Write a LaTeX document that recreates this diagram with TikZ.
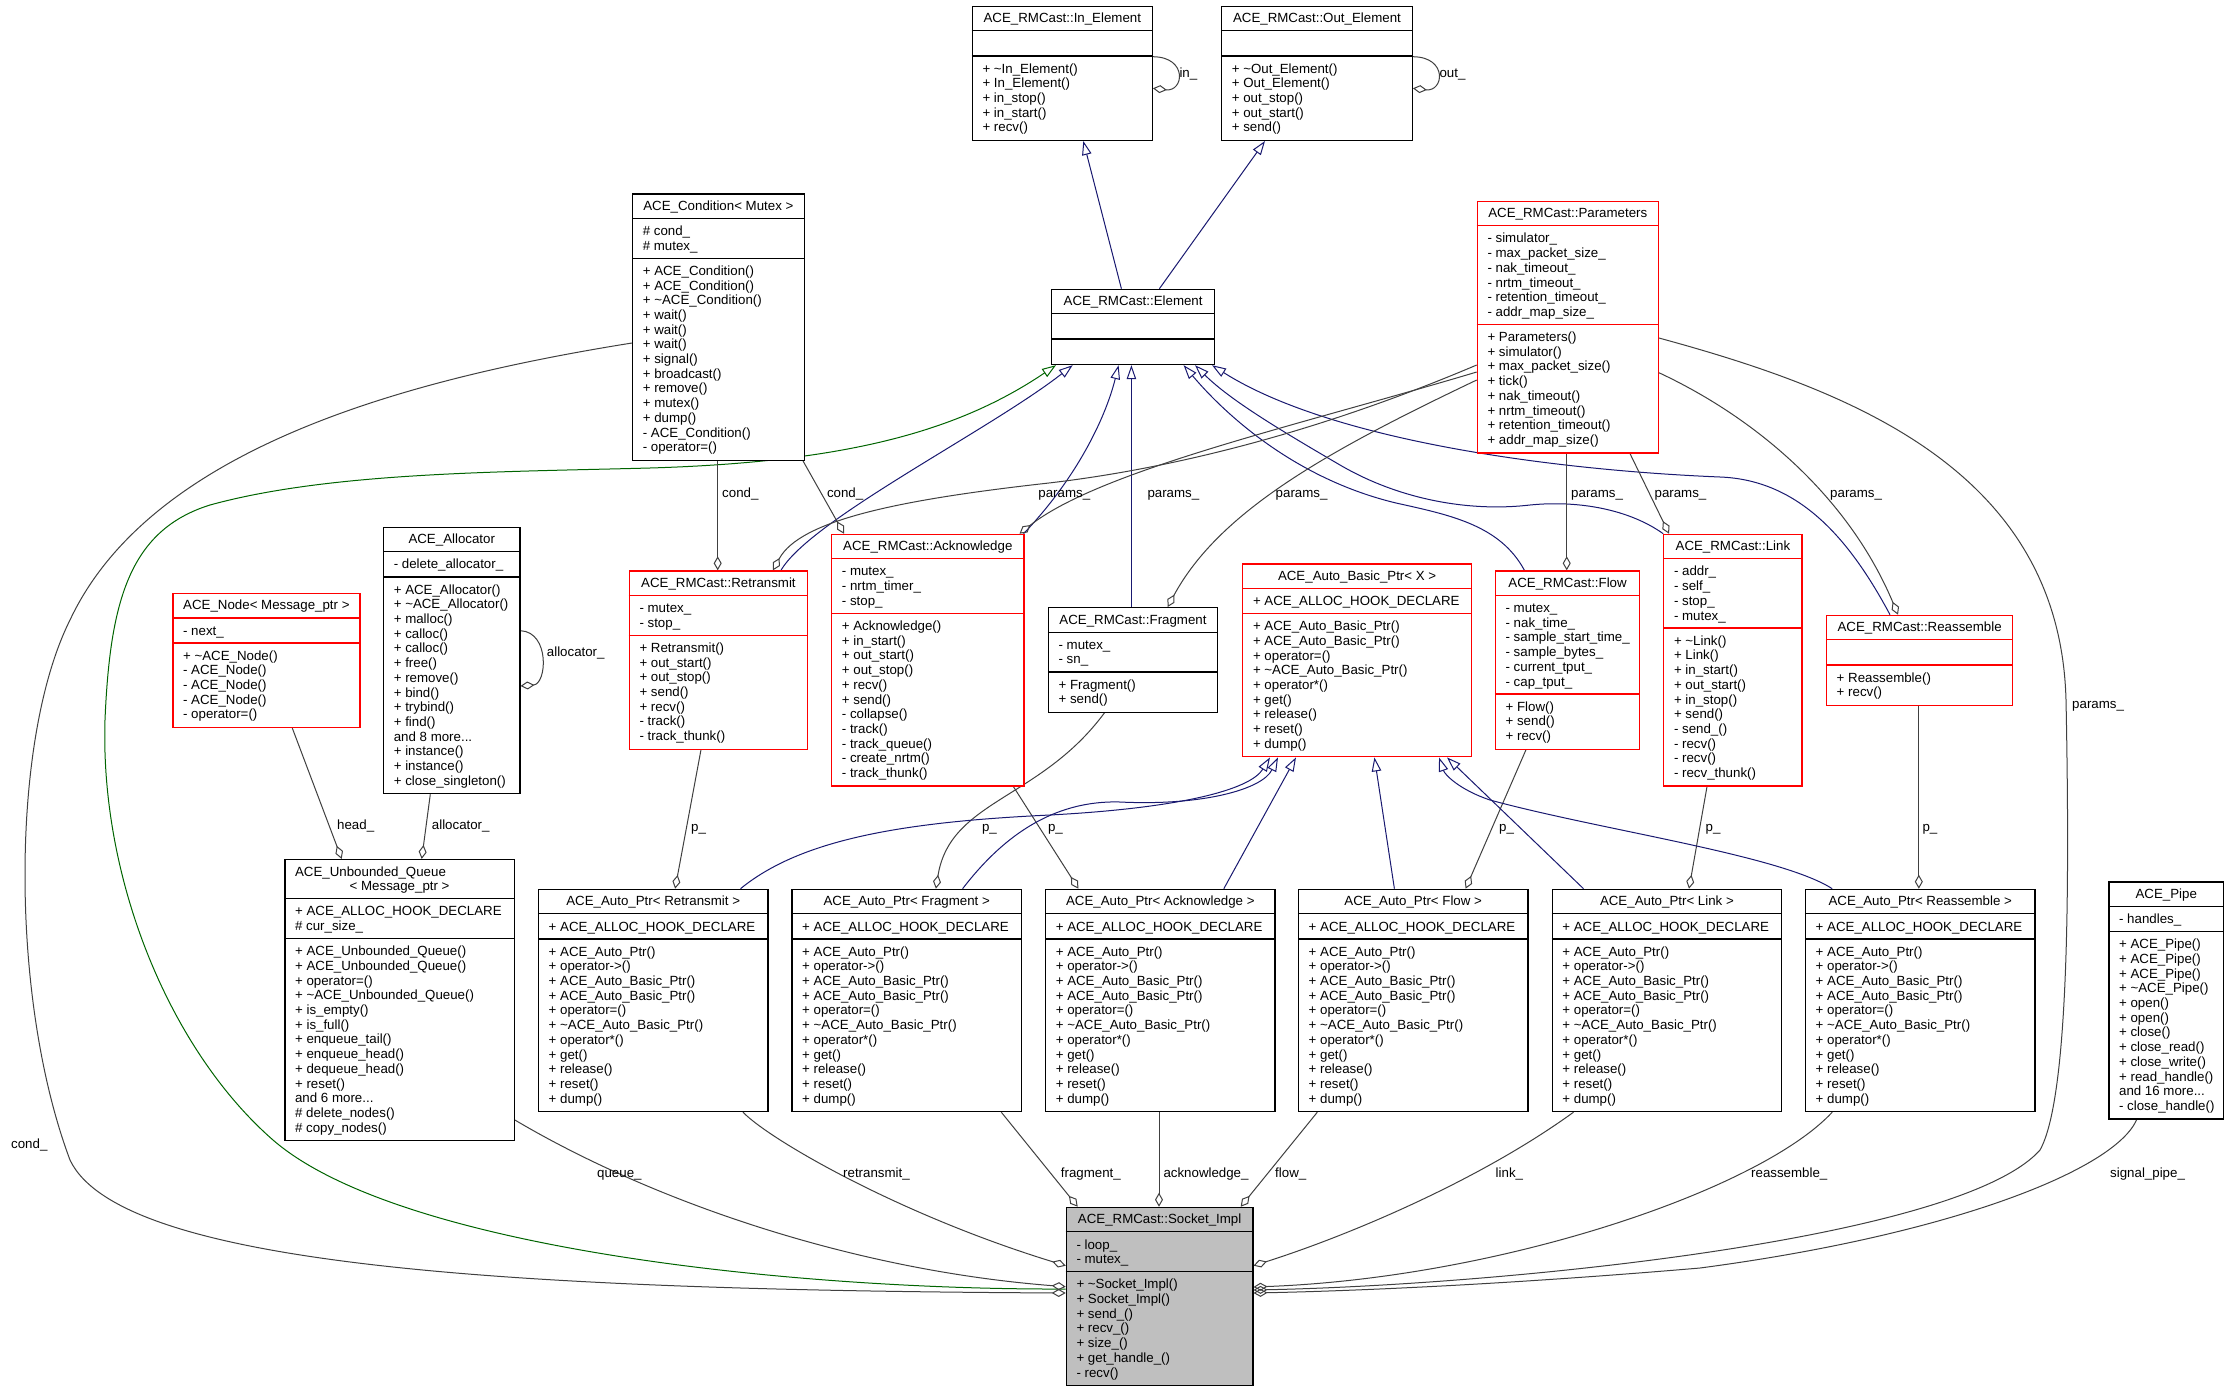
\documentclass[tikz,border=0pt]{standalone}
\usepackage{fontspec}
\setmainfont{Liberation Sans}
\usetikzlibrary{arrows.meta,backgrounds,calc}
\definecolor{egray}{HTML}{404040}
\definecolor{eblue}{HTML}{191970}
\definecolor{egreen}{HTML}{006400}
\definecolor{sockfill}{HTML}{BFBFBF}
\newcommand\tld{\textasciitilde}
\tikzset{
  cls/.style={draw=black, line width=1.2pt, fill=white},
  clsred/.style={draw=red, line width=1.2pt, fill=white},
  clssock/.style={draw=black, line width=1.2pt, fill=sockfill},
  txt/.style={font=\fontsize{13.3}{14.7}\selectfont, inner sep=0pt, align=left},
  lbl/.style={font=\fontsize{13.3}{14.7}\selectfont, inner sep=0pt, anchor=base west},
  agg/.style={draw=egray, line width=1pt, -{Diamond[open, length=14pt, width=8pt]}},
  inhb/.style={draw=eblue, line width=1pt, -{Triangle[open, length=14pt, width=9.5pt]}},
  inhg/.style={draw=egreen, line width=1pt, -{Triangle[open, length=14pt, width=9.5pt]}},
}
\newcommand\ClassBox[8]{%
  \pgfmathsetmacro\hA{10.4+max(#6,1)*14.7}%
  \pgfmathsetmacro\hB{\hA+10.4+max(#7,1)*14.7}%
  \pgfmathsetmacro\hC{\hB+10.4+max(#8,1)*14.7}%
  \pgfmathsetmacro\hAt{\hA+6.7}%
  \pgfmathsetmacro\hBt{\hB+6.7}%
  \node[#2, anchor=north west, minimum width=#5pt, minimum height=\hC pt, inner sep=0pt] (#1) at (#3,#4) {};
  \draw[#2] ([yshift=-\hA pt]#1.north west) -- ([yshift=-\hA pt]#1.north east);
  \draw[#2] ([yshift=-\hB pt]#1.north west) -- ([yshift=-\hB pt]#1.north east);
  \coordinate (#1-t) at ([yshift=-6.7pt]#1.north);
  \coordinate (#1-tl) at ([xshift=10.6pt,yshift=-6.7pt]#1.north west);
  \coordinate (#1-a) at ([xshift=10.6pt,yshift=-\hAt pt]#1.north west);
  \coordinate (#1-m) at ([xshift=10.6pt,yshift=-\hBt pt]#1.north west);
}
\newcommand\Title[2]{\node[txt,anchor=north] (#1-tt) at (#1-t) {\strut #2};}
\newcommand\Attrs[2]{\node[txt,anchor=north west] (#1-at) at (#1-a) {\strut #2};}
\newcommand\Meths[2]{\node[txt,anchor=north west] (#1-mt) at (#1-m) {\strut #2};}
\newcommand\AutoMeths{+ ACE\_Auto\_Ptr()\\+ operator->()\\+ ACE\_Auto\_Basic\_Ptr()\\+ ACE\_Auto\_Basic\_Ptr()\\+ operator=()\\+ \tld{}ACE\_Auto\_Basic\_Ptr()\\+ operator*()\\+ get()\\+ release()\\+ reset()\\+ dump()}
\begin{document}
\begin{tikzpicture}[x=1pt,y=-1pt]
\useasboundingbox (0,0) rectangle (2229,1392);

% ---------------- boxes ----------------
\ClassBox{inel}{cls}{971.7}{5.7}{180}{1}{0}{5}
\Title{inel}{ACE\_RMCast::In\_Element}
\Meths{inel}{+ \tld{}In\_Element()\\+ In\_Element()\\+ in\_stop()\\+ in\_start()\\+ recv()}

\ClassBox{outel}{cls}{1221}{5.7}{190.7}{1}{0}{5}
\Title{outel}{ACE\_RMCast::Out\_Element}
\Meths{outel}{+ \tld{}Out\_Element()\\+ Out\_Element()\\+ out\_stop()\\+ out\_start()\\+ send()}

\ClassBox{cond}{cls}{632}{193.3}{171.6}{1}{2}{13}
\Title{cond}{ACE\_Condition< Mutex >}
\Attrs{cond}{\# cond\_\\\# mutex\_}
\Meths{cond}{+ ACE\_Condition()\\+ ACE\_Condition()\\+ \tld{}ACE\_Condition()\\+ wait()\\+ wait()\\+ wait()\\+ signal()\\+ broadcast()\\+ remove()\\+ mutex()\\+ dump()\\- ACE\_Condition()\\- operator=()}

\ClassBox{elem}{cls}{1051}{288.7}{163}{1}{0}{0}
\Title{elem}{ACE\_RMCast::Element}

\ClassBox{params}{clsred}{1476.7}{200.7}{181}{1}{6}{8}
\Title{params}{ACE\_RMCast::Parameters}
\Attrs{params}{- simulator\_\\- max\_packet\_size\_\\- nak\_timeout\_\\- nrtm\_timeout\_\\- retention\_timeout\_\\- addr\_map\_size\_}
\Meths{params}{+ Parameters()\\+ simulator()\\+ max\_packet\_size()\\+ tick()\\+ nak\_timeout()\\+ nrtm\_timeout()\\+ retention\_timeout()\\+ addr\_map\_size()}

\ClassBox{anode}{clsred}{172.3}{592.8}{187}{1}{1}{5}
\Title{anode}{ACE\_Node< Message\_ptr >}
\Attrs{anode}{- next\_}
\Meths{anode}{+ \tld{}ACE\_Node()\\- ACE\_Node()\\- ACE\_Node()\\- ACE\_Node()\\- operator=()}

\ClassBox{alloc}{cls}{383}{526.7}{136.3}{1}{1}{14}
\Title{alloc}{ACE\_Allocator}
\Attrs{alloc}{- delete\_allocator\_}
\Meths{alloc}{+ ACE\_Allocator()\\+ \tld{}ACE\_Allocator()\\+ malloc()\\+ calloc()\\+ calloc()\\+ free()\\+ remove()\\+ bind()\\+ trybind()\\+ find()\\and 8 more...\\+ instance()\\+ instance()\\+ close\_singleton()}

\ClassBox{queue}{cls}{284.3}{858.9}{229.4}{2}{2}{13}
\node[txt,anchor=north west] (queue-tt1) at (queue-tl) {\strut ACE\_Unbounded\_Queue};
\node[txt,anchor=north] (queue-tt2) at ([yshift=-14.7pt]queue-t) {\strut < Message\_ptr >};
\Attrs{queue}{+ ACE\_ALLOC\_HOOK\_DECLARE\\\# cur\_size\_}
\Meths{queue}{+ ACE\_Unbounded\_Queue()\\+ ACE\_Unbounded\_Queue()\\+ operator=()\\+ \tld{}ACE\_Unbounded\_Queue()\\+ is\_empty()\\+ is\_full()\\+ enqueue\_tail()\\+ enqueue\_head()\\+ dequeue\_head()\\+ reset()\\and 6 more...\\\# delete\_nodes()\\\# copy\_nodes()}

\ClassBox{retr}{clsred}{628.7}{570.3}{178.3}{1}{2}{7}
\Title{retr}{ACE\_RMCast::Retransmit}
\Attrs{retr}{- mutex\_\\- stop\_}
\Meths{retr}{+ Retransmit()\\+ out\_start()\\+ out\_stop()\\+ send()\\+ recv()\\- track()\\- track\_thunk()}

\ClassBox{ack}{clsred}{831.1}{533.7}{192.2}{1}{3}{11}
\Title{ack}{ACE\_RMCast::Acknowledge}
\Attrs{ack}{- mutex\_\\- nrtm\_timer\_\\- stop\_}
\Meths{ack}{+ Acknowledge()\\+ in\_start()\\+ out\_start()\\+ out\_stop()\\+ recv()\\+ send()\\- collapse()\\- track()\\- track\_queue()\\- create\_nrtm()\\- track\_thunk()}

\ClassBox{frag}{cls}{1047.8}{607}{169.2}{1}{2}{2}
\Title{frag}{ACE\_RMCast::Fragment}
\Attrs{frag}{- mutex\_\\- sn\_}
\Meths{frag}{+ Fragment()\\+ send()}

\ClassBox{abp}{clsred}{1242.2}{563.3}{228.6}{1}{1}{9}
\Title{abp}{ACE\_Auto\_Basic\_Ptr< X >}
\Attrs{abp}{+ ACE\_ALLOC\_HOOK\_DECLARE}
\Meths{abp}{+ ACE\_Auto\_Basic\_Ptr()\\+ ACE\_Auto\_Basic\_Ptr()\\+ operator=()\\+ \tld{}ACE\_Auto\_Basic\_Ptr()\\+ operator*()\\+ get()\\+ release()\\+ reset()\\+ dump()}

\ClassBox{flow}{clsred}{1494.8}{570.3}{144.4}{1}{6}{3}
\Title{flow}{ACE\_RMCast::Flow}
\Attrs{flow}{- mutex\_\\- nak\_time\_\\- sample\_start\_time\_\\- sample\_bytes\_\\- current\_tput\_\\- cap\_tput\_}
\Meths{flow}{+ Flow()\\+ send()\\+ recv()}

\ClassBox{link}{clsred}{1663.2}{533.7}{138.2}{1}{4}{10}
\Title{link}{ACE\_RMCast::Link}
\Attrs{link}{- addr\_\\- self\_\\- stop\_\\- mutex\_}
\Meths{link}{+ \tld{}Link()\\+ Link()\\+ in\_start()\\+ out\_start()\\+ in\_stop()\\+ send()\\- send\_()\\- recv()\\- recv()\\- recv\_thunk()}

\ClassBox{reas}{clsred}{1825.9}{614.7}{186.2}{1}{0}{2}
\Title{reas}{ACE\_RMCast::Reassemble}
\Meths{reas}{+ Reassemble()\\+ recv()}

\ClassBox{aretr}{cls}{537.9}{888.7}{229.4}{1}{1}{11}
\Title{aretr}{ACE\_Auto\_Ptr< Retransmit >}
\Attrs{aretr}{+ ACE\_ALLOC\_HOOK\_DECLARE}
\Meths{aretr}{\AutoMeths}

\ClassBox{afrag}{cls}{791.4}{888.7}{229.4}{1}{1}{11}
\Title{afrag}{ACE\_Auto\_Ptr< Fragment >}
\Attrs{afrag}{+ ACE\_ALLOC\_HOOK\_DECLARE}
\Meths{afrag}{\AutoMeths}

\ClassBox{aack}{cls}{1045}{888.7}{229.4}{1}{1}{11}
\Title{aack}{ACE\_Auto\_Ptr< Acknowledge >}
\Attrs{aack}{+ ACE\_ALLOC\_HOOK\_DECLARE}
\Meths{aack}{\AutoMeths}

\ClassBox{aflow}{cls}{1297.9}{888.7}{229.4}{1}{1}{11}
\Title{aflow}{ACE\_Auto\_Ptr< Flow >}
\Attrs{aflow}{+ ACE\_ALLOC\_HOOK\_DECLARE}
\Meths{aflow}{\AutoMeths}

\ClassBox{alink}{cls}{1551.6}{888.7}{229.4}{1}{1}{11}
\Title{alink}{ACE\_Auto\_Ptr< Link >}
\Attrs{alink}{+ ACE\_ALLOC\_HOOK\_DECLARE}
\Meths{alink}{\AutoMeths}

\ClassBox{areas}{cls}{1804.9}{888.7}{229.4}{1}{1}{11}
\Title{areas}{ACE\_Auto\_Ptr< Reassemble >}
\Attrs{areas}{+ ACE\_ALLOC\_HOOK\_DECLARE}
\Meths{areas}{\AutoMeths}

\ClassBox{pipe}{cls}{2108.3}{881.3}{114.7}{1}{1}{12}
\Title{pipe}{ACE\_Pipe}
\Attrs{pipe}{- handles\_}
\Meths{pipe}{+ ACE\_Pipe()\\+ ACE\_Pipe()\\+ ACE\_Pipe()\\+ \tld{}ACE\_Pipe()\\+ open()\\+ open()\\+ close()\\+ close\_read()\\+ close\_write()\\+ read\_handle()\\and 16 more...\\- close\_handle()}

\ClassBox{sock}{clssock}{1065.7}{1206.7}{186.6}{1}{2}{7}
\Title{sock}{ACE\_RMCast::Socket\_Impl}
\Attrs{sock}{- loop\_\\- mutex\_}
\Meths{sock}{+ \tld{}Socket\_Impl()\\+ Socket\_Impl()\\+ send\_()\\+ recv\_()\\+ size\_()\\+ get\_handle\_()\\- recv()}

% ---------------- connectors ----------------
\begin{pgfonlayer}{background}
\fill[white] (0,0) rectangle (2229,1392);
% top
\draw[inhb] (1121.4,0 |- elem.north) -- (1083.3,0 |- inel.south);
\draw[inhb] (1159.4,0 |- elem.north) -- (1265,0 |- outel.south);
\draw[agg] (inel.east |- 0,56.7) .. controls (1188,57) and (1184,92) .. (inel.east |- 0,88.3);
\draw[agg] (outel.east |- 0,56.7) .. controls (1448,57) and (1444,92) .. (outel.east |- 0,88.3);
% element subclasses
\draw[inhg] (sock.west |- 0,1289) .. controls (800,1290) and (400,1250) .. (273,1140) .. controls (170,1050) and (100,880) .. (105,720) .. controls (110,600) and (130,530) .. (210,505) .. controls (330,472) and (500,472) .. (650,468) .. controls (850,462) and (960,430) .. (1056,0 |- elem.south);
\draw[inhb] (781,0 |- retr.north) .. controls (810,520) and (990,430) .. (1072.7,0 |- elem.south);
\draw[inhb] ([xshift=-1pt]ack.north east) .. controls (1075,480) and (1105,420) .. (1118.6,0 |- elem.south);
\draw[inhb] (1131.4,0 |- frag.north) -- (1131.4,0 |- elem.south);
\draw[inhb] (1524.4,0 |- flow.north) .. controls (1500,525) and (1450,515) .. (1396,503) .. controls (1300,480) and (1230,420) .. (1183.6,0 |- elem.south);
\draw[inhb] (link.north west) .. controls (1630,510) and (1580,500) .. (1530,505) .. controls (1470,512) and (1400,500) .. (1340,465) .. controls (1280,430) and (1230,400) .. (1195,0 |- elem.south);
\draw[inhb] (1890,0 |- reas.north) .. controls (1850,540) and (1800,480) .. (1720,477) .. controls (1550,470) and (1330,440) .. (1212,0 |- elem.south);
% params
\draw[agg] (params.west |- 0,365) .. controls (1300,440) and (1150,472) .. (1040,484) .. controls (900,500) and (800,520) .. (773,0 |- retr.north);
\draw[agg] (params.west |- 0,372) .. controls (1300,425) and (1100,470) .. ([xshift=-5pt]ack.north east);
\draw[agg] (params.west |- 0,380) .. controls (1330,450) and (1220,510) .. (1167.6,0 |- frag.north);
\draw[agg] (1566.7,0 |- params.south) -- (1566.7,0 |- flow.north);
\draw[agg] (1630,0 |- params.south) -- (1669,0 |- link.north);
\draw[agg] (params.east |- 0,372.7) .. controls (1760,420) and (1850,500) .. (1898,0 |- reas.north);
\draw[agg] (params.east |- 0,338) .. controls (1850,390) and (2060,470) .. (2066,700) .. controls (2070,900) and (2068,1100) .. (2040,1150) .. controls (1960,1240) and (1500,1285) .. (sock.east |- 0,1290);
% condition
\draw[agg] (717.7,0 |- cond.south) -- (717.7,0 |- retr.north);
\draw[agg] (803,0 |- cond.south) -- (844,0 |- ack.north);
\draw[agg] (cond.west |- 0,343) .. controls (400,380) and (150,450) .. (70,620) .. controls (10,740) and (10,1000) .. (70,1160) .. controls (120,1265) and (500,1290) .. (sock.west |- 0,1293);
% node / allocator
\draw[agg] (292.3,0 |- anode.south) -- (341.7,0 |- queue.north);
\draw[agg] (430.3,0 |- alloc.south) -- (421.7,0 |- queue.north);
\draw[agg] (alloc.east |- 0,630.7) .. controls (550,632) and (547,684) .. (alloc.east |- 0,686);
% p_
\draw[agg] (701,0 |- retr.south) -- (675.1,0 |- aretr.north);
\draw[agg] (1013.4,0 |- ack.south) -- (1078.4,0 |- aack.north);
\draw[agg] (1104.4,0 |- frag.south) .. controls (1040,800) and (950,800) .. (935.9,0 |- afrag.north);
\draw[agg] (1526,0 |- flow.south) -- (1465.6,0 |- aflow.north);
\draw[agg] (1707,0 |- link.south) -- (1689,0 |- alink.north);
\draw[agg] (1918.8,0 |- reas.south) -- (1918.8,0 |- areas.north);
% auto ptr inheritance
\draw[inhb] (740.5,0 |- aretr.north) .. controls (800,840) and (900,822) .. (1050,815) .. controls (1180,808) and (1250,790) .. (1270,0 |- abp.south);
\draw[inhb] (962.6,0 |- afrag.north) .. controls (1000,840) and (1050,800) .. (1120,802) .. controls (1200,806) and (1262,790) .. (1278,0 |- abp.south);
\draw[inhb] (1223.8,0 |- aack.north) -- (1296,0 |- abp.south);
\draw[inhb] (1394.4,0 |- aflow.north) -- (1374.4,0 |- abp.south);
\draw[inhb] (1583.5,0 |- alink.north) -- (1447,0 |- abp.south);
\draw[inhb] (1832.2,0 |- areas.north) .. controls (1780,855) and (1600,830) .. (1490,800) .. controls (1460,790) and (1445,775) .. (1439,0 |- abp.south);
% into socket
\draw[agg] (queue.east |- 0,1120) .. controls (650,1200) and (850,1270) .. (sock.west |- 0,1286.7);
\draw[agg] (743,0 |- aretr.south) .. controls (770,1140) and (900,1215) .. (sock.west |- 0,1265.7);
\draw[agg] (1001.3,0 |- afrag.south) -- (1077.7,0 |- sock.north);
\draw[agg] (1159,0 |- aack.south) -- (1159,0 |- sock.north);
\draw[agg] (1317.3,0 |- aflow.south) -- (1240.7,0 |- sock.north);
\draw[agg] (1573.5,0 |- alink.south) .. controls (1480,1180) and (1350,1235) .. (sock.east |- 0,1265.7);
\draw[agg] (1832.2,0 |- areas.south) .. controls (1760,1190) and (1500,1278) .. (sock.east |- 0,1287);
\draw[agg] (2136.7,0 |- pipe.south) .. controls (2115,1170) and (1950,1235) .. (1700,1268) .. controls (1500,1285) and (1350,1291) .. (sock.east |- 0,1293);
% labels
\node[lbl] (l-in) at (1179.3,77.2) {in\_};
\node[lbl] (l-out) at (1439.3,77.2) {out\_};
\node[lbl] (l-alloc1) at (546.7,656) {allocator\_};
\node[lbl] (l-head) at (337,829.5) {head\_};
\node[lbl] (l-alloc2) at (431.7,829.5) {allocator\_};
\node[lbl] (l-cond1) at (722,497.2) {cond\_};
\node[lbl] (l-cond2) at (826.8,497.2) {cond\_};
\node[lbl] (l-par1) at (1038.2,497.2) {params\_};
\node[lbl] (l-par2) at (1147.3,497.2) {params\_};
\node[lbl] (l-par3) at (1275.5,497.2) {params\_};
\node[lbl] (l-par4) at (1571,497.2) {params\_};
\node[lbl] (l-par5) at (1654.4,497.2) {params\_};
\node[lbl] (l-par6) at (1830,497.2) {params\_};
\node[lbl] (l-par7) at (2072,708) {params\_};
\node[lbl] (l-cond3) at (11,1148.5) {cond\_};
\node[lbl] (l-p1) at (691,831.2) {p\_};
\node[lbl] (l-p2) at (981.8,831.2) {p\_};
\node[lbl] (l-p3) at (1047.8,831.2) {p\_};
\node[lbl] (l-p4) at (1498.9,831.2) {p\_};
\node[lbl] (l-p5) at (1705.5,831.2) {p\_};
\node[lbl] (l-p6) at (1922.3,831.2) {p\_};
\node[lbl] (l-queue) at (597,1177.2) {queue\_};
\node[lbl] (l-retr) at (843,1177.2) {retransmit\_};
\node[lbl] (l-frag) at (1060.7,1177.2) {fragment\_};
\node[lbl] (l-ack) at (1163.3,1177.2) {acknowledge\_};
\node[lbl] (l-flow) at (1275,1177.2) {flow\_};
\node[lbl] (l-link) at (1495.5,1177.2) {link\_};
\node[lbl] (l-reas) at (1751,1177.2) {reassemble\_};
\node[lbl] (l-pipe) at (2110,1177.2) {signal\_pipe\_};
\end{pgfonlayer}
\end{tikzpicture}
\end{document}
